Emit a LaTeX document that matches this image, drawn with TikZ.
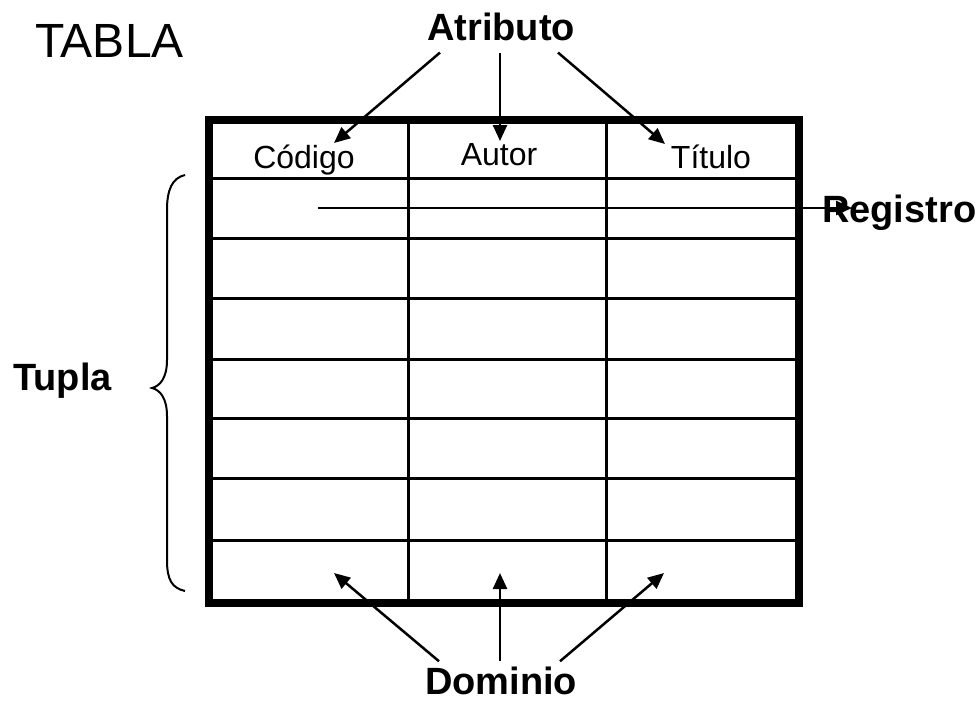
\documentclass[tikz,border=0pt]{standalone}
\usepackage{fontspec}
\setmainfont{Liberation Sans}
\usetikzlibrary{positioning,arrows.meta,calc}
\tikzstyle{lbl}=[font=\fontsize{38}{38}\selectfont\bfseries, inner sep=0pt]
\tikzstyle{hdr}=[font=\fontsize{32}{32}\selectfont, inner sep=0pt, anchor=base]
\tikzstyle{gline}=[line width=3pt]
\tikzstyle{pline}=[-{Triangle[length=16pt,width=14pt]}, line width=2.5pt]

\begin{document}
\begin{tikzpicture}[x=1pt,y=-1pt]
\useasboundingbox (0,0) rectangle (977,702);

% table grid
\foreach \y in {178,238,298,359,418,478,540}
  \draw[gline] (209,\y) -- (799,\y);
\foreach \x in {408,606}
  \draw[gline] (\x,120) -- (\x,603);
\draw[line width=8pt] (209,120) rectangle (799,603);

\node (TABLA) [font=\fontsize{48}{48}\selectfont, inner sep=0pt, anchor=base west] at (35,57) {TABLA};
\node (ATR) [lbl, anchor=base] at (501,40) {Atributo};
\node (DOM) [lbl, anchor=base] at (501,694) {Dominio};
\node (TUP) [lbl, anchor=base west] at (13,390) {Tupla};

\node (COD) [hdr] at (304,168) {Código};
\node (AUT) [hdr] at (499,165) {Autor};
\node (TIT) [hdr] at (711,168) {Título};

\coordinate (codA) at (334,143);
\coordinate (autA) at (500,141);
\coordinate (titA) at (665,144);
\coordinate (codD) at (334,573);
\coordinate (autD) at (500,573);
\coordinate (titD) at (664,573);
\coordinate (regS) at (318,208);

 \draw[pline] (ATR.south) ++(-61,12) -- (codA);
 \draw[pline] (ATR.south) ++(-1,12) -- (autA);
 \draw[pline] (ATR.south) ++(57,12) -- (titA);

 \draw[pline] (DOM.north) ++(-62,-5) -- (codD);
 \draw[pline] (DOM.north) ++(-1,-5) -- (autD);
 \draw[pline] (DOM.north) ++(59,-5) -- (titD);

\node (REG) [lbl, anchor=base west] at (822,222) {Registro};
 \draw[pline] (regS) -- ([xshift=30pt]REG.west |- regS);

% brace
\draw[line width=2pt] (185,175) .. controls (172,178) and (167,190) .. (167,210) -- (167,360)
  .. controls (167,378) and (160,386) .. (152,388) .. controls (160,390) and (167,398) .. (167,416)
  -- (167,560) .. controls (167,580) and (172,588) .. (185,591);

\end{tikzpicture}
\end{document}
